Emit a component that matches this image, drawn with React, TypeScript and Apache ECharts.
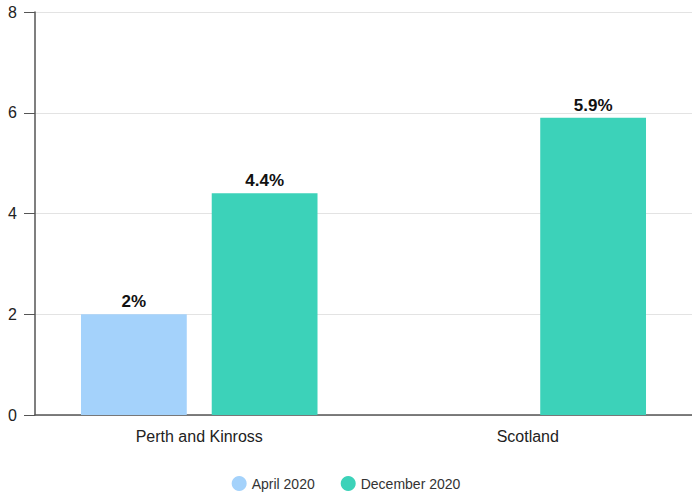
import React, { useEffect, useRef } from "react";
import * as echarts from "echarts";

const categories = ["Perth and Kinross", "Scotland"];
const april2020 = [2, null];
const december2020 = [4.4, 5.9];
const seriesNames = ["April 2020", "December 2020"];

export default function App() {
  const ref = useRef<HTMLDivElement>(null);
  useEffect(() => {
    const chart = echarts.init(ref.current!, null, { renderer: "svg" });
    const font = "'Liberation Sans', Arial, sans-serif";
    const label = {
      show: true,
      position: "top",
      formatter: (p: any) => p.value + "%",
      fontWeight: "bold",
      fontSize: 17,
      color: "#111",
      fontFamily: font,
      distance: 4,
    };
    chart.setOption({
      animation: false,
      textStyle: { fontFamily: font },
      grid: { left: 35, right: -2, top: 12, bottom: 80 },
      legend: {
        top: 471,
        icon: "circle",
        itemWidth: 15,
        itemHeight: 15,
        itemGap: 26,
        textStyle: { fontSize: 14, color: "#333", fontFamily: font },
        data: seriesNames,
      },
      xAxis: {
        type: "category",
        data: categories,
        axisLine: { lineStyle: { color: "#555", width: 1.5 } },
        axisTick: { alignWithLabel: true, length: 6, lineStyle: { color: "#555" } },
        axisLabel: { fontSize: 16, color: "#222", margin: 13, fontFamily: font },
      },
      yAxis: {
        type: "value",
        min: 0,
        max: 8,
        interval: 2,
        axisLine: { show: true, lineStyle: { color: "#555", width: 1.5 } },
        axisTick: { show: true, length: 11, lineStyle: { color: "#555" } },
        axisLabel: { fontSize: 16, color: "#222", margin: 18, fontFamily: font },
        splitLine: { lineStyle: { color: "#e3e3e3" } },
      },
      series: [
        {
          name: seriesNames[0],
          type: "bar",
          data: april2020,
          barWidth: "32.2%",
          barGap: "23.6%",
          itemStyle: { color: "#a4d2fb" },
          label,
        },
        {
          name: seriesNames[1],
          type: "bar",
          data: december2020,
          barWidth: "32.2%",
          itemStyle: { color: "#3cd2b9" },
          label,
        },
      ],
    });
    return () => chart.dispose();
  }, []);
  return (
    <div
      ref={ref}
      style={{ position: "absolute", left: 0, top: 0, width: 692, height: 495 }}
    />
  );
}
